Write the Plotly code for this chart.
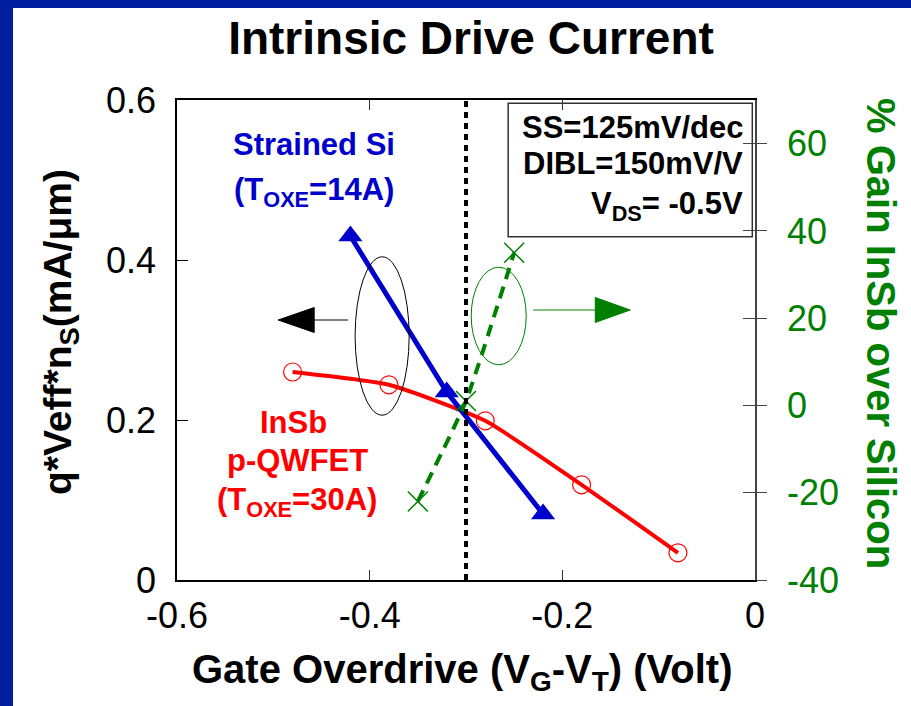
import plotly.graph_objects as go

# ---------------- data ----------------
insb_x = [-0.48, -0.38, -0.28, -0.18, -0.08]
insb_y = [0.26, 0.244, 0.199, 0.119, 0.034]

si_x = [-0.42, -0.32, -0.22]
si_y = [0.43, 0.235, 0.0825]

gain_x = [-0.35, -0.30, -0.25]
gain_y = [-22, 1, 35]

x_tickvals = [-0.6, -0.4, -0.2, 0]
x_ticktext = ["-0.6", "-0.4", "-0.2", "0"]
y_tickvals = [0, 0.2, 0.4, 0.6]
y_ticktext = ["0", "0.2", "0.4", "0.6"]
y2_tickvals = [-40, -20, 0, 20, 40, 60]
y2_ticktext = ["-40", "-20", "0", "20", "40", "60"]

vline_x = -0.3

# decorations (data coordinates)
black_ellipse = [-0.4151, 0.206, -0.359, 0.404]   # x0, y0, x1, y1
green_ellipse = [-0.2946, 0.269, -0.2375, 0.391]
black_arrow = dict(tail=-0.4224, base=-0.4576, tip=-0.495, y=0.325, h=0.0156)
green_arrow = dict(tail=-0.2302, base=-0.1658, tip=-0.1295, y=0.3375, h=0.0156)
info_box = [-0.2562, 0.429, -0.0028, 0.596]

RED = "#FF0000"
BLUE = "#0000CC"
GREEN = "#008000"
FONT = "Liberation Sans, Arial, sans-serif"

fig = go.Figure()

fig.add_trace(go.Scatter(
    x=insb_x, y=insb_y, mode="lines+markers",
    line=dict(color=RED, width=4, shape="spline", smoothing=0.5),
    marker=dict(symbol="circle-open", size=18, color=RED, line=dict(width=1.2, color=RED)),
    showlegend=False, hoverinfo="skip"))

fig.add_trace(go.Scatter(
    x=si_x, y=si_y, mode="lines+markers",
    line=dict(color=BLUE, width=5),
    marker=dict(symbol="triangle-up", size=21, color=BLUE),
    showlegend=False, hoverinfo="skip"))

fig.add_trace(go.Scatter(
    x=gain_x, y=gain_y, mode="lines+markers", yaxis="y2",
    line=dict(color=GREEN, width=4, dash="12px,8px", shape="spline", smoothing=0.4),
    marker=dict(symbol="x-thin-open", size=20, color=GREEN, line=dict(width=1.5, color=GREEN)),
    showlegend=False, hoverinfo="skip"))

# dummy trace for the inner part of right ticks
fig.add_trace(go.Scatter(x=[None], y=[None], yaxis="y3", showlegend=False, hoverinfo="skip"))

shapes = []
# vertical dotted line
shapes.append(dict(type="line", xref="x", yref="y", x0=vline_x, x1=vline_x, y0=0, y1=0.6,
                   line=dict(color="black", width=4, dash="6px,5px")))
# ellipses
shapes.append(dict(type="circle", xref="x", yref="y", x0=black_ellipse[0], y0=black_ellipse[1],
                   x1=black_ellipse[2], y1=black_ellipse[3], line=dict(color="black", width=1)))
shapes.append(dict(type="circle", xref="x", yref="y", x0=green_ellipse[0], y0=green_ellipse[1],
                   x1=green_ellipse[2], y1=green_ellipse[3], line=dict(color=GREEN, width=1)))
# arrows
for arr, col in [(black_arrow, "black"), (green_arrow, GREEN)]:
    shapes.append(dict(type="line", xref="x", yref="y", x0=arr["tail"], x1=arr["base"],
                       y0=arr["y"], y1=arr["y"], line=dict(color=col, width=1)))
    path = "M {t},{y} L {b},{y1} L {b},{y2} Z".format(
        t=arr["tip"], b=arr["base"], y=arr["y"], y1=arr["y"] + arr["h"], y2=arr["y"] - arr["h"])
    shapes.append(dict(type="path", xref="x", yref="y", path=path, fillcolor=col,
                       line=dict(color=col, width=1)))
# info box
shapes.append(dict(type="rect", xref="x", yref="y", x0=info_box[0], y0=info_box[1],
                   x1=info_box[2], y1=info_box[3], line=dict(color="#333333", width=1.5)))
# blue slide border
BORDER = "#00209F"
shapes.append(dict(type="rect", xref="paper", yref="paper", x0=-0.4, x1=(13 - 177) / 578,
                   y0=-0.4, y1=1.3, fillcolor=BORDER, line=dict(width=0), layer="below"))
shapes.append(dict(type="rect", xref="paper", yref="paper", x0=-0.4, x1=1.4,
                   y0=(580 - 8) / 480, y1=1.3, fillcolor=BORDER, line=dict(width=0), layer="below"))

annotations = []

def add_text(text, x, y, color, size, xanchor="center", xref="x", yref="y", textangle=0):
    annotations.append(dict(text="<b>" + text + "</b>", x=x, y=y, xref=xref, yref=yref,
                            showarrow=False, xanchor=xanchor, yanchor="middle",
                            textangle=textangle,
                            font=dict(family=FONT, size=size, color=color)))

add_text("Strained Si", -0.4577, 0.544, BLUE, 31)
add_text("(T<sub>OXE</sub>=14A)", -0.4577, 0.485, BLUE, 31)
add_text("InSb", -0.4795, 0.1975, RED, 31)
add_text("p-QWFET", -0.4748, 0.149, RED, 31)
add_text("(T<sub>OXE</sub>=30A)", -0.4754, 0.097, RED, 31)
add_text("SS=125mV/dec", -0.010, 0.566, "black", 31, xanchor="right")
add_text("DIBL=150mV/V", -0.010, 0.521, "black", 31, xanchor="right")
add_text("V<sub>DS</sub>= -0.5V", -0.010, 0.467, "black", 31, xanchor="right")

# axis titles as annotations (paper coords)
add_text("q*Veff*n<sub>S</sub>(mA/μm)", (60 - 177) / 578, (580 - 332) / 480, "black", 39,
         xref="paper", yref="paper", textangle=-90)
add_text("% Gain InSb over Silicon", (881 - 177) / 578, (580 - 333) / 480, GREEN, 40,
         xref="paper", yref="paper", textangle=90)
add_text("Gate Overdrive (V<sub>G</sub>-V<sub>T</sub>) (Volt)", (462 - 177) / 578, (580 - 672) / 480,
         "black", 40, xref="paper", yref="paper")

fig.update_layout(
    width=911, height=706,
    margin=dict(l=177, r=156, t=100, b=126),
    paper_bgcolor="white", plot_bgcolor="white",
    font=dict(family=FONT, size=36, color="black"),
    title=dict(text="<b>Intrinsic Drive Current</b>", x=(471 - 177) / 578, xref="paper",
               y=1 - 38 / 706, yanchor="middle", xanchor="center",
               font=dict(family=FONT, size=46, color="black")),
    xaxis=dict(range=[-0.6, 0], tickvals=x_tickvals, ticktext=x_ticktext,
               ticks="inside", ticklen=10, tickwidth=1, tickcolor="#333333",
               showline=True, linecolor="black", linewidth=1.5, mirror="ticks",
               showgrid=False, zeroline=False, ticklabelstandoff=3,
               tickfont=dict(family=FONT, size=36, color="black")),
    yaxis=dict(range=[0, 0.6], tickvals=y_tickvals, ticktext=y_ticktext,
               ticks="inside", ticklen=11, tickwidth=1, tickcolor="black",
               showline=True, linecolor="black", linewidth=1.5, mirror=False,
               showgrid=False, zeroline=False, ticklabelstandoff=12,
               tickfont=dict(family=FONT, size=36, color="black")),
    yaxis2=dict(range=[-40, 70], tickvals=y2_tickvals, ticktext=y2_ticktext,
                overlaying="y", side="right", anchor="x",
                ticks="outside", ticklen=10, tickwidth=1.2, tickcolor="#444444",
                showline=True, linecolor="#444444", linewidth=1.5,
                showgrid=False, zeroline=False, ticklabelstandoff=13,
                tickfont=dict(family=FONT, size=36, color=GREEN)),
    yaxis3=dict(range=[-40, 70], tickvals=y2_tickvals, overlaying="y", side="right", anchor="x",
                ticks="inside", ticklen=12, tickwidth=1.2, tickcolor="#444444",
                showticklabels=False, showline=False, showgrid=False, zeroline=False),
    shapes=shapes,
    annotations=annotations,
)

fig.write_html("out.html")
